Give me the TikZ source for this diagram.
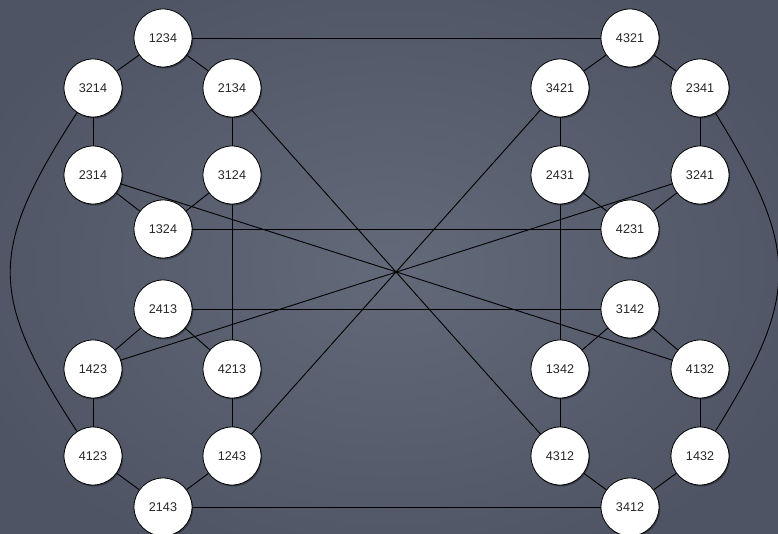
\documentclass[tikz,border=0pt]{standalone}
\usepackage{fontspec}
\setmainfont{Liberation Sans}
\usetikzlibrary{shadows,backgrounds}
\definecolor{slatedark}{RGB}{78,84,99}
\definecolor{slatelight}{RGB}{98,105,120}
\definecolor{shadowcolor}{RGB}{20,22,30}

\begin{document}
\begin{tikzpicture}[
    x=1pt, y=-1pt,
    perm/.style={circle, draw=black, line width=0.8pt, fill=white,
      minimum size=58pt, inner sep=0pt, text=black!85,
      font=\fontsize{12.6}{15}\selectfont,
      drop shadow={shadow xshift=1.2pt, shadow yshift=-1.5pt,
        opacity=0.45, fill=shadowcolor}},
    link/.style={black, line width=0.9pt},
  ]

  \useasboundingbox (0,0) rectangle (778,534);

  % --- Permutations ---
  \foreach \name/\x/\y in {
      1234/163/38, 3214/93/88, 2134/232/88, 2314/93/175, 3124/232/175, 1324/163/229,
      2413/163/309, 1423/93/369, 4213/232/369, 4123/93/456, 1243/232/456, 2143/163/507,
      4321/630/38, 3421/560/88, 2341/700/88, 2431/560/175, 3241/700/175, 4231/630/229,
      3142/630/309, 1342/560/369, 4132/700/369, 4312/560/456, 1432/700/456, 3412/630/507} {
    \node[perm] (p\name) at (\x,\y) {\name};
  }

  % --- Board and connectors, under the circles ---
  \begin{scope}[on background layer]
    \clip (0,0) rectangle (778,534);
    \fill[inner color=slatelight, outer color=slatedark] (-60,-60) rectangle (838,594);

    \foreach \a/\b in {
        1234/3214, 1234/2134, 3214/2314, 2134/3124, 2314/1324, 3124/1324,
        2413/1423, 2413/4213, 1423/4123, 4213/1243, 4123/2143, 1243/2143,
        4321/3421, 4321/2341, 3421/2431, 2341/3241, 2431/4231, 3241/4231,
        3142/1342, 3142/4132, 1342/4312, 4132/1432, 4312/3412, 1432/3412,
        3124/4213, 2431/1342,
        1234/4321, 1324/4231, 2413/3142, 2143/3412,
        2134/4312, 2314/4132, 1423/3241, 1243/3421} {
      \draw[link] (p\a) -- (p\b);
    }
    % outer arcs
    \draw[link] (p3214) .. controls (-12,250) and (-12,295) .. (p4123);
    \draw[link] (p2341) .. controls (800,250) and (800,295) .. (p1432);
  \end{scope}

\end{tikzpicture}
\end{document}
